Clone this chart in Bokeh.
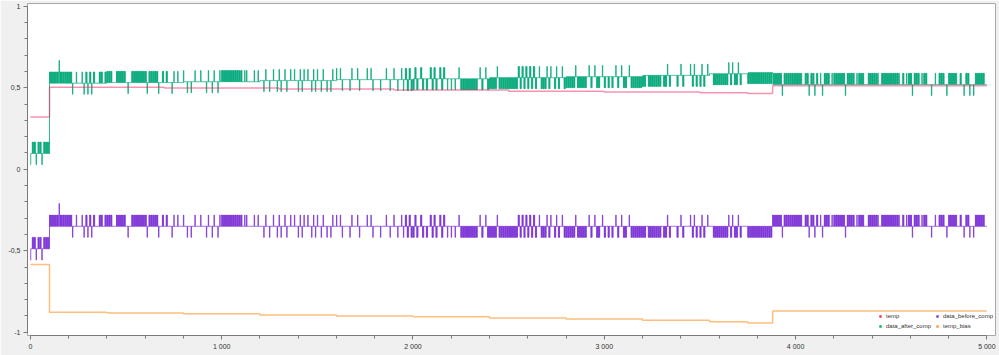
from bokeh.plotting import figure
from bokeh.models import Range1d, FixedTicker, Legend, LegendItem
from bokeh.embed import file_html
from bokeh.resources import INLINE
import numpy as np

# ---------------- data ----------------
SUB = 2       # each pattern character = 5 readings of 2 samples (10 samples)
X_END = 5000

# quantised levels of data_before_comp
level_codes = ["S", "H", "M", "L", "B", "C"]
before_level_values = [-0.21, -0.281, -0.350, -0.418, -0.488, -0.557]
# uppercase letter = steady level over the cell; the other codes below describe what is
# seen inside one 10-sample cell (fast toggling, single spike or single dip)
cell_codes = {
    "h": "HMHMM",  # dense toggling high/mid
    "l": "LMLMM",  # dense toggling low/mid
    "p": "HMMMM",  # single up spike
    "d": "LMMMM",  # single dip
    "s": "SHMHM",  # top spike inside dense part
    "b": "LBLBB",  # start-up part: toggling
    "c": "CBBBB",  # start-up part: dip
}

# level sequence of data_before_comp (one row = 500 samples)
pattern_rows = [
    "cbbcbbcbbb" "hhhhh" "s" "hhhhhh" "d" "MpMMp" "dhdhdh" "MM" "hhMhhhhMMhhhhh",
    "MdM" "hhhhhhhh" "d" "hhhhh" "d" "MhMhMM" "d" "pMpM" "MpMdMd" "MpMMpMM" "d" "pM" "d" "pMdp",
    "hhhhhhhhhhh" "Mp" "pMMMpMpMM" "dpMdMpMdpdMpdMpMpMdpdpMpMdpd",
    "pMdpMdMdpMpMp" "dMMMdpMMpdMMMpMpdMMMdM" "MpMdMpMdMpdhlhl",
    "lhlMhlM" "lMhlhlMhlh" "MdMdMdMp" "lllllllllMplMpl" "llllplllll",
    "lllll" "hlhlhlhlh" "lMplllplpMlplMpl" "lllllpllll" "lMplMpllMp",
    "lMlMlMplMpl" "lMpllllllllMlllllllMll" "plMMM" "lMplMMM" "plplM",
    "lplMpMMlll" "lllllplpll" "plMMMlllll" "llllllll" "hhhhhdhhhhhh",
    "hhhpMhhdhhdhMpdhhhMp" "hhhhhhdhhhhMphhh" "MM" "hhhhhpMhhhhh",
    "hhhhpMhMphhdhhhMphh" "MMdMpMhhhMd" "hhhhpMhMdhhdMdhhhhhM",
]

# temp_bias (step changes)
bias_x = [0, 100, 400, 800, 1200, 1600, 2000, 2400, 2800, 3200, 3550, 3750, 3880]
bias_y = [-0.585, -0.878, -0.882, -0.887, -0.894, -0.900, -0.905, -0.912, -0.918,
          -0.926, -0.936, -0.943, -0.870]

# temp (step changes)
temp_x = [0, 100, 700, 1300, 1900, 2500, 3000, 3500, 3750, 3880]
temp_y = [0.320, 0.503, 0.498, 0.492, 0.486, 0.479, 0.474, 0.470, 0.465, 0.513]

series_names = ["temp", "data_before_comp", "data_after_comp", "temp_bias"]
series_colors = ["#f0285f", "#7b2fd6", "#00a878", "#ff9226"]

x_ticks = [0, 1000, 2000, 3000, 4000, 5000]
x_tick_labels = ["0", "1 000", "2 000", "3 000", "4 000", "5 000"]
y_ticks = [-1, -0.5, 0, 0.5, 1]
y_tick_labels = ["-1", "-0,5", "0", "0,5", "1"]

# ---------------- build series ----------------
pattern = "".join(pattern_rows)
lvl = dict(zip(level_codes, before_level_values))
readings = []
for c in pattern:
    seq = cell_codes.get(c, c * 5)
    readings += [lvl[k] for k in seq]
before = np.array(readings)
sample_x = np.arange(len(before)) * SUB
bias_arr_x = np.array(bias_x)
bias_arr_y = np.array(bias_y)
bias_at = bias_arr_y[np.searchsorted(bias_arr_x, sample_x, side="right") - 1]
after = before - bias_at

step_x = np.append(sample_x, X_END)
before_y = np.append(before, before[-1])
after_y = np.append(after, after[-1])
bias_sx = bias_x + [X_END]
bias_sy = bias_y + [bias_y[-1]]
temp_sx = temp_x + [X_END]
temp_sy = temp_y + [temp_y[-1]]

# ---------------- figure ----------------
FONT = "Liberation Sans"
p = figure(width=999, height=355, x_range=Range1d(-15, 5045), y_range=Range1d(-1.02, 1.017),
           output_backend="svg", toolbar_location=None,
           min_border_left=27, min_border_right=4, min_border_top=3, min_border_bottom=20,
           background_fill_color="white", border_fill_color="#f0f0f0",
           outline_line_color="#a8a8a8")
p.xgrid.visible = False
p.ygrid.visible = False

p.step(step_x, after_y, mode="after", color=series_colors[2], line_width=1, line_alpha=0.8)
p.step(step_x, before_y, mode="after", color=series_colors[1], line_width=1, line_alpha=0.8)
p.step(temp_sx, temp_sy, mode="after", color=series_colors[0], line_width=1.5, line_alpha=0.5)
p.step(bias_sx, bias_sy, mode="after", color=series_colors[3], line_width=1.5, line_alpha=0.6)

for ax in (p.xaxis[0], p.yaxis[0]):
    ax.axis_line_color = "#7a7a7a"
    ax.major_tick_line_color = "#7a7a7a"
    ax.minor_tick_line_color = "#7a7a7a"
    ax.major_tick_in = 0
    ax.major_tick_out = 4
    ax.minor_tick_in = 0
    ax.minor_tick_out = 3
    ax.major_label_text_font = FONT
    ax.major_label_text_font_size = "7px"
    ax.major_label_text_color = "#333333"
    ax.major_label_standoff = 3

p.xaxis.ticker = FixedTicker(ticks=x_ticks, minor_ticks=list(range(0, 5001, 200)))
p.xaxis.major_label_overrides = dict(zip(x_ticks, x_tick_labels))
p.xaxis.bounds = (0, 5000)
p.yaxis.ticker = FixedTicker(ticks=y_ticks, minor_ticks=[round(-1 + 0.1 * i, 1) for i in range(21)])
p.yaxis.major_label_overrides = dict(zip(y_ticks, y_tick_labels))
p.yaxis.bounds = (-1, 1)

# legend with square markers
items = []
for name, col in zip(series_names, series_colors):
    r = p.scatter(x=[-1000], y=[-1000], marker="square", size=6, color=col, line_color=None)
    items.append(LegendItem(label=name, renderers=[r]))
legend = Legend(items=items, orientation="horizontal", ncols=2, location=(850, 5),
                label_text_font=FONT, label_text_font_size="6px", label_text_color="#333333",
                glyph_width=6, glyph_height=6, label_height=8, label_width=46, label_standoff=3,
                spacing=2, padding=0, margin=0,
                background_fill_alpha=0, border_line_alpha=0)
p.add_layout(legend)

open("out.html", "w").write(file_html(p, INLINE))
